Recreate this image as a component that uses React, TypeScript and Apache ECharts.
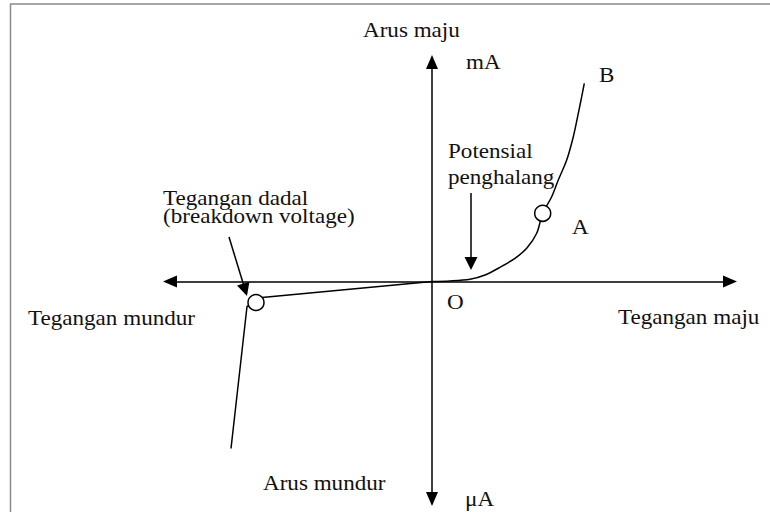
import React, { useEffect, useRef } from "react";
import * as echarts from "echarts";

// Schematic diode I-V characteristic (arbitrary units: voltage on x, current on y)
const forwardV = [0, 18, 38, 53, 68, 83, 94.7, 104.7, 110.7, 119.7, 126.3, 134.7, 141.3, 146.3, 149.7, 152.3];
const forwardI = [0, 0.5, 2.2, 6.5, 14.2, 23.2, 33.2, 48.2, 68.2, 84.8, 101.5, 121.5, 144.8, 168.2, 184.8, 198.2];
const reverseV = [0, -170, -176, -185, -201];
const reverseI = [0, -16, -21, -25, -167];
const markerV = [110.7, -176];
const markerI = [68.2, -21];
const xRange = [-262, 298];
const yRange = [-217.5, 219.5];
// annotation arrows: [startV, startI, endV, endI]
const barrierArrow = [39, 88.5, 39, 18];
const breakdownArrow = [-203, 44.5, -186.9, -8.3];

const labels: { text: string; x: number; y: number }[] = [
  { text: "Arus maju", x: 363, y: 29.5 },
  { text: "mA", x: 466, y: 62 },
  { text: "B", x: 599, y: 75 },
  { text: "Potensial", x: 448, y: 151 },
  { text: "penghalang", x: 448, y: 177 },
  { text: "A", x: 572, y: 226.5 },
  { text: "Tegangan dadal", x: 163, y: 198 },
  { text: "(breakdown voltage)", x: 163, y: 216 },
  { text: "Tegangan mundur", x: 28, y: 317.5 },
  { text: "Tegangan maju", x: 618, y: 317 },
  { text: "O", x: 447, y: 302 },
  { text: "Arus mundur", x: 263, y: 483 },
  { text: "\u03bcA", x: 465, y: 499 },
];

export default function App() {
  const ref = useRef<HTMLDivElement>(null);
  useEffect(() => {
    if (!ref.current) return;
    const chart = echarts.init(ref.current, undefined, { renderer: "svg" });
    const font = "Liberation Serif, Times New Roman, serif";
    const axisCommon = {
      type: "value" as const,
      axisLine: {
        show: true,
        onZero: true,
        symbol: ["triangle", "triangle"],
        symbolSize: [12, 14],
        lineStyle: { color: "#000", width: 1.5 },
      },
      axisTick: { show: false },
      axisLabel: { show: false },
      splitLine: { show: false },
    };
    chart.setOption({
      animation: false,
      backgroundColor: "#fff",
      grid: { left: 170, right: 40, top: 62, bottom: 13 },
      xAxis: { ...axisCommon, min: xRange[0], max: xRange[1] },
      yAxis: { ...axisCommon, min: yRange[0], max: yRange[1] },
      graphic: [
        {
          type: "rect",
          shape: { x: 10.5, y: 4, width: 800, height: 560 },
          style: { fill: "none", stroke: "#8a8a8a", lineWidth: 1.5 },
          silent: true,
        },
        ...labels.map((l) => ({
          type: "text",
          x: l.x,
          y: l.y,
          scaleX: 1.1,
          silent: true,
          style: {
            text: l.text,
            fill: "#111",
            font: `21px ${font}`,
            textAlign: "left",
            textVerticalAlign: "middle",
          },
        })),
      ],
      series: [
        {
          type: "line",
          z: 2,
          data: forwardV.map((v, i) => [v, forwardI[i]]),
          smooth: 0.3,
          showSymbol: false,
          symbol: "none",
          lineStyle: { color: "#000", width: 1.5 },
          silent: true,
          markLine: {
            silent: true,
            symbol: ["none", "triangle"],
            symbolSize: [13, 13],
            label: { show: false },
            lineStyle: { color: "#000", width: 1.5, type: "solid" },
            data: [
              [
                { coord: [barrierArrow[0], barrierArrow[1]] },
                { coord: [barrierArrow[2], barrierArrow[3]] },
              ],
              [
                { coord: [breakdownArrow[0], breakdownArrow[1]] },
                { coord: [breakdownArrow[2], breakdownArrow[3]] },
              ],
            ],
          },
        },
        {
          type: "line",
          z: 2,
          data: reverseV.map((v, i) => [v, reverseI[i]]),
          showSymbol: false,
          symbol: "none",
          lineStyle: { color: "#000", width: 1.5 },
          silent: true,
        },
        {
          type: "scatter",
          data: markerV.map((v, i) => [v, markerI[i]]),
          symbol: "circle",
          symbolSize: 16,
          z: 10,
          itemStyle: { color: "#fff", opacity: 1, borderColor: "#000", borderWidth: 1.5 },
          silent: true,
        },
      ],
    });
    return () => chart.dispose();
  }, []);
  return (
    <div
      ref={ref}
      style={{ position: "fixed", left: 0, top: 0, width: 770, height: 512 }}
    />
  );
}
